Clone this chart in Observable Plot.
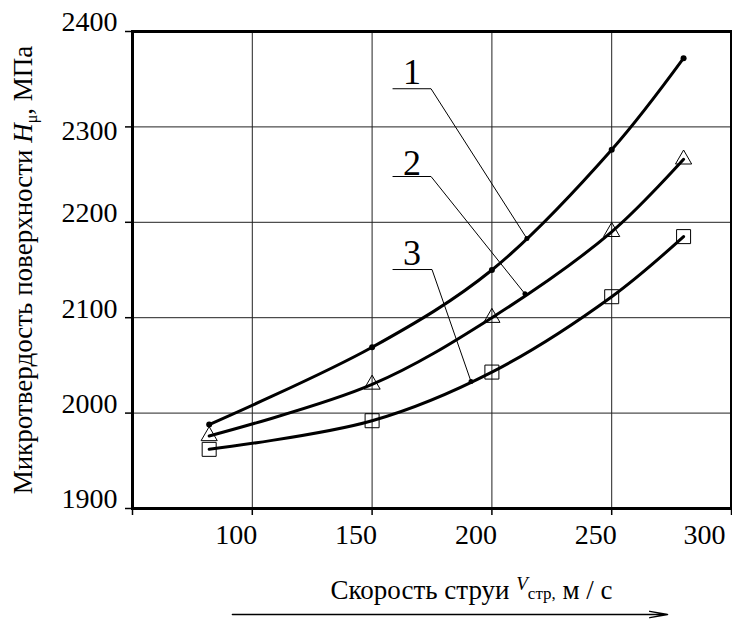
<!DOCTYPE html>
<html>
<head>
<meta charset="utf-8">
<script src="https://cdn.jsdelivr.net/npm/d3@7"></script>
<script src="https://cdn.jsdelivr.net/npm/@observablehq/plot@0.6"></script>
<style>
  html, body { margin: 0; padding: 0; background: white; }
</style>
</head>
<body>
<div id="chart"></div>
<script>
// ---- data ----
const speeds = [82, 150, 200, 250, 280];
const curve1 = [1988, 2069, 2150, 2276, 2372];
const curve2 = [1976, 2030, 2100, 2190, 2266];
const curve3 = [1962, 1992, 2043, 2122, 2185];
const seriesNames = ["1", "2", "3"];

const xTicks = [50, 100, 150, 200, 250, 300];
const xLabels = [100, 150, 200, 250, 300];
const yTicks = [1900, 2000, 2100, 2200, 2300, 2400];
const xGrid = [100, 150, 200, 250];
const yGrid = [2000, 2100, 2200, 2300];

// curve labels and leader lines (in data units)
const labelX = [166.7, 166.7, 166.7];
const labelY = [2357, 2262, 2167];
const leaderStartX = [158.7, 158.7, 158.7];
const leaderKneeX = [174.6, 174.6, 175];
const leaderKneeY = [2340, 2248, 2150.5];
const leaderEndX = [214.6, 213.8, 191.3];
const leaderEndY = [2183, 2125, 2033];

// direction arrow under the x title (x data units)
const arrowSpan = [91.7, 273.3];

const yTitle = "Микротвердость поверхности H\u03bc, МПа";
const xTitle = "Скорость струи Vстр, м / с";

// ---- build tables ----
const curves = [curve1, curve2, curve3];
const rows = [];
curves.forEach((c, i) => c.forEach((v, j) => rows.push({s: seriesNames[i], x: speeds[j], y: v})));
const leaders = [];
seriesNames.forEach((n, i) => {
  leaders.push({id: n, x: leaderStartX[i], y: leaderKneeY[i]});
  leaders.push({id: n, x: leaderKneeX[i], y: leaderKneeY[i]});
  leaders.push({id: n, x: leaderEndX[i], y: leaderEndY[i]});
});
const leaderEnds = seriesNames.map((n, i) => ({x: leaderEndX[i], y: leaderEndY[i]}));
const labelRows = seriesNames.map((n, i) => ({t: n, x: labelX[i], y: labelY[i]}));

const font = "'Liberation Serif', 'Times New Roman', serif";
const fmt = d => String(d);

const svg = Plot.plot({
  width: 732,
  height: 619,
  marginLeft: 132,
  marginRight: 1,
  marginTop: 31,
  marginBottom: 111,
  x: {domain: [50, 300]},
  y: {domain: [1900, 2400]},
  style: {fontFamily: font, fontSize: "28px", background: "white", color: "black"},
  marks: [
    Plot.gridX(xGrid, {stroke: "#222", strokeOpacity: 1, strokeWidth: 1}),
    Plot.gridY(yGrid, {stroke: "#222", strokeOpacity: 1, strokeWidth: 1}),
    Plot.axisX(xTicks, {tickSize: 7, tickFormat: () => "", label: null, strokeWidth: 1.5}),
    Plot.axisY(yTicks, {tickSize: 7, tickFormat: () => "", label: null, strokeWidth: 1.5}),
    Plot.text(xLabels.filter(d => d !== 300), {x: d => d, text: fmt, frameAnchor: "bottom", dy: 35, dx: -16, fontSize: 28}),
    Plot.text(xLabels.filter(d => d === 300), {x: d => d, text: fmt, frameAnchor: "bottom", dy: 35, dx: -27, fontSize: 28}),
    Plot.text(yTicks.filter(d => d !== 2300), {y: d => d, text: fmt, frameAnchor: "left", textAnchor: "end", dx: -15, dy: -9, fontSize: 28}),
    Plot.text(yTicks.filter(d => d === 2300), {y: d => d, text: fmt, frameAnchor: "left", textAnchor: "end", dx: -15, dy: 4, fontSize: 28}),
    Plot.frame({stroke: "black", strokeWidth: 3}),
    Plot.line(rows, {x: "x", y: "y", z: "s", curve: "catmull-rom", stroke: "black", strokeWidth: 3}),
    Plot.dot(rows.filter(d => d.s === "1"), {x: "x", y: "y", r: 3, fill: "black"}),
    Plot.dot(rows.filter(d => d.s === "2"), {x: "x", y: "y", r: 6, symbol: "triangle", fill: "none", stroke: "black", strokeWidth: 1}),
    Plot.dot(rows.filter(d => d.s === "3"), {x: "x", y: "y", r: 7.9, symbol: "square", fill: "none", stroke: "black", strokeWidth: 1}),
    Plot.line(leaders, {x: "x", y: "y", z: "id", stroke: "black", strokeWidth: 1}),
    Plot.dot(leaderEnds, {x: "x", y: "y", r: 2.5, fill: "black"}),
    Plot.text(labelRows, {x: "x", y: "y", text: "t", fontSize: 36}),
    Plot.text([yTitle], {frameAnchor: "left", textAnchor: "middle", rotate: -90, dx: -109, fontSize: 27}),
    Plot.text([xTitle], {frameAnchor: "bottom-left", textAnchor: "start", dx: 198, dy: 90, fontSize: 27}),
    Plot.arrow([arrowSpan], {x1: d => d[0], x2: d => d[1], y1: () => 1900, y2: () => 1900, dy: 106, stroke: "black", strokeWidth: 1.5, headLength: 18, headAngle: 20})
  ]
});

// rich text: italic symbols and subscripts
const sel = d3.select(svg);
sel.selectAll("text").filter(function () { return this.textContent === yTitle; }).each(function () {
  const t = d3.select(this);
  t.text(null);
  t.append("tspan").text("Микротвердость поверхности ");
  t.append("tspan").attr("font-style", "italic").text("H");
  t.append("tspan").attr("font-size", "16px").attr("dy", "5").text("\u03bc");
  t.append("tspan").attr("dy", "-5").text(", МПа");
});
sel.selectAll("text").filter(function () { return this.textContent === xTitle; }).each(function () {
  const t = d3.select(this);
  t.text(null);
  t.append("tspan").text("Скорость струи ");
  t.append("tspan").attr("font-style", "italic").attr("font-size", "19px").attr("dy", "-9").text("V");
  t.append("tspan").attr("font-size", "17px").attr("dy", "9").text("стр,");
  t.append("tspan").text(" м / с");
});

document.getElementById("chart").appendChild(svg);
</script>
</body>
</html>
